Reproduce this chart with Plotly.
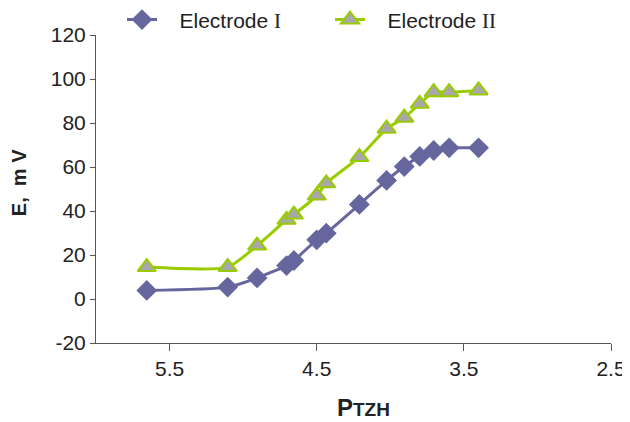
import plotly.graph_objects as go

ptzh = [5.655, 5.105, 4.905, 4.705, 4.655, 4.50, 4.435, 4.21, 4.025, 3.905, 3.80, 3.705, 3.60, 3.40]
electrode_1 = [3.9, 5.4, 9.6, 15.2, 17.5, 26.9, 29.9, 43.0, 53.9, 60.2, 64.8, 67.5, 68.7, 68.7]
electrode_2 = [14.5, 14.5, 24.3, 36.0, 38.4, 47.0, 52.6, 64.5, 77.4, 82.4, 88.7, 94.0, 94.0, 94.8]
x_ticks = [5.5, 4.5, 3.5, 2.5]
y_ticks = [-20, 0, 20, 40, 60, 80, 100, 120]
serif = "font-family:'Liberation Serif','DejaVu Serif',serif"
pad = "&nbsp;&nbsp;&nbsp;"
names = [pad + "Electrode <span style=\"%s\">I</span>" % serif,
         pad + "Electrode <span style=\"%s\">II</span>" % serif]

fig = go.Figure()
fig.add_trace(go.Scatter(
    x=ptzh, y=electrode_1, name=names[0], mode="lines+markers",
    line=dict(color="#66669E", width=3, shape="spline", smoothing=0.6),
    marker=dict(symbol="diamond", size=16, color="#66669E"),
))
fig.add_trace(go.Scatter(
    x=ptzh, y=electrode_2, name=names[1], mode="lines+markers",
    line=dict(color="#99CC00", width=3, shape="spline", smoothing=0.6),
    marker=dict(symbol="triangle-up", size=16, color="#A8A8A8",
                line=dict(color="#99CC00", width=2)),
))

fig.update_layout(
    width=622, height=414,
    margin=dict(l=88, r=19, t=27, b=79, autoexpand=False),
    paper_bgcolor="white", plot_bgcolor="white",
    font=dict(family="Liberation Sans, Arial, sans-serif", size=21, color="#222"),
    showlegend=True,
    legend=dict(orientation="h", x=0.0505, y=1.049, xanchor="left", yanchor="middle",
                font=dict(size=21, color="#222"), entrywidth=163, entrywidthmode="pixels",
                bgcolor="rgba(0,0,0,0)"),
    xaxis=dict(
        range=[6.0, 2.5], tickvals=x_ticks, ticktext=[str(v) for v in x_ticks],
        showgrid=False, zeroline=False, showline=True, linecolor="#555", linewidth=1,
        ticks="outside", ticklen=7, tickcolor="#555", automargin=False,
    ),
    yaxis=dict(
        range=[-20, 120], tickvals=y_ticks, ticktext=[str(v) for v in y_ticks],
        showgrid=False, zeroline=False, showline=True, linecolor="#555", linewidth=1,
        ticks="outside", ticklen=5, tickcolor="#555", automargin=False,
    ),
    annotations=[
        dict(text="<b>E,  m V</b>", textangle=-90, xref="paper", yref="paper",
             x=-0.1495, y=0.519, xanchor="center", yanchor="middle", showarrow=False,
             font=dict(size=20, color="#222")),
        dict(text="<b>P<span style='font-size:19px'>TZH</span></b>", xref="paper", yref="paper",
             x=0.519, y=-0.211, xanchor="center", yanchor="middle", showarrow=False,
             font=dict(size=24, color="#222")),
    ],
)

fig.write_html("out.html")
